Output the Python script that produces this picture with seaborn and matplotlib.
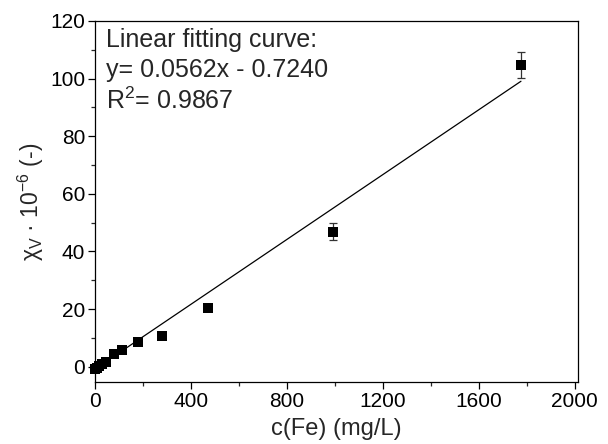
import matplotlib
matplotlib.use("Agg")
import matplotlib.pyplot as plt
import seaborn as sns
import numpy as np
import pandas as pd
from matplotlib.ticker import MultipleLocator, AutoMinorLocator

# Data
conc = [0, 7, 14, 28, 42, 76, 111, 176, 278, 471, 991, 1776]
chi = [-0.8, -0.3, 0.2, 0.8, 1.5, 4.3, 5.8, 8.7, 10.8, 20.5, 46.9, 104.7]
chi_err = [0.2, 0.2, 0.2, 0.2, 0.3, 0.4, 0.5, 0.6, 0.8, 1.2, 3.0, 4.6]
slope = 0.0562
intercept = -0.7240
r2 = 0.9867
x_ticks = [0, 400, 800, 1200, 1600, 2000]
y_ticks = [0, 20, 40, 60, 80, 100, 120]

sns.set_theme(style="ticks")
plt.rcParams["font.family"] = ["Liberation Sans", "DejaVu Sans"]
plt.rcParams["mathtext.fontset"] = "custom"
plt.rcParams["mathtext.rm"] = "Liberation Sans"

df = pd.DataFrame({"c": conc, "chi": chi, "err": chi_err})
fit_x = [conc[0], conc[-1]]
fit_df = pd.DataFrame({"c": fit_x, "fit": [slope * v + intercept for v in fit_x]})

fig = plt.figure(figsize=(6.08, 4.44), dpi=100)
ax = fig.add_axes([95 / 608, 1 - 382 / 444, (577.5 - 95) / 608, (382 - 21) / 444])

sns.lineplot(data=fit_df, x="c", y="fit", ax=ax, color="black", linewidth=0.9)
ax.errorbar(df["c"], df["chi"], yerr=df["err"], fmt="none", ecolor="#333333",
            elinewidth=0.9, capsize=2.8, capthick=0.9, zorder=2)
sns.scatterplot(data=df, x="c", y="chi", ax=ax, marker="s", s=42, color="black",
                edgecolor="black", linewidth=0, zorder=3, clip_on=False)

ax.set_xlim(-2, 2012)
ax.set_ylim(-5.3, 120)
ax.set_xticks(x_ticks)
ax.set_yticks(y_ticks)
ax.xaxis.set_minor_locator(MultipleLocator(200))
ax.yaxis.set_minor_locator(MultipleLocator(10))
ax.tick_params(axis="both", which="major", direction="out", length=5, width=0.9,
               labelsize=15, pad=2, colors="black")
ax.tick_params(axis="both", which="minor", direction="out", length=3, width=0.9)
ax.tick_params(top=False, right=False, which="both")
for sp in ax.spines.values():
    sp.set_visible(True)
    sp.set_color("black")
    sp.set_linewidth(0.9)

ax.set_xlabel("c(Fe) (mg/L)", fontsize=17, labelpad=5)
ax.set_ylabel(r"χ$_\mathregular{V}$ · 10$^\mathregular{-6}$ (-)", fontsize=16.5, labelpad=3)

ax.text(0.023, 0.98, "Linear fitting curve:", transform=ax.transAxes,
        fontsize=18, va="top", ha="left")
ax.text(0.023, 0.898, f"y= {slope:.4f}x - {abs(intercept):.4f}", transform=ax.transAxes,
        fontsize=18, va="top", ha="left")
ax.text(0.023, 0.816, r"R$^\mathregular{2}$= " + f"{r2:.4f}", transform=ax.transAxes,
        fontsize=18, va="top", ha="left")

fig.savefig("out.png", dpi=100)
